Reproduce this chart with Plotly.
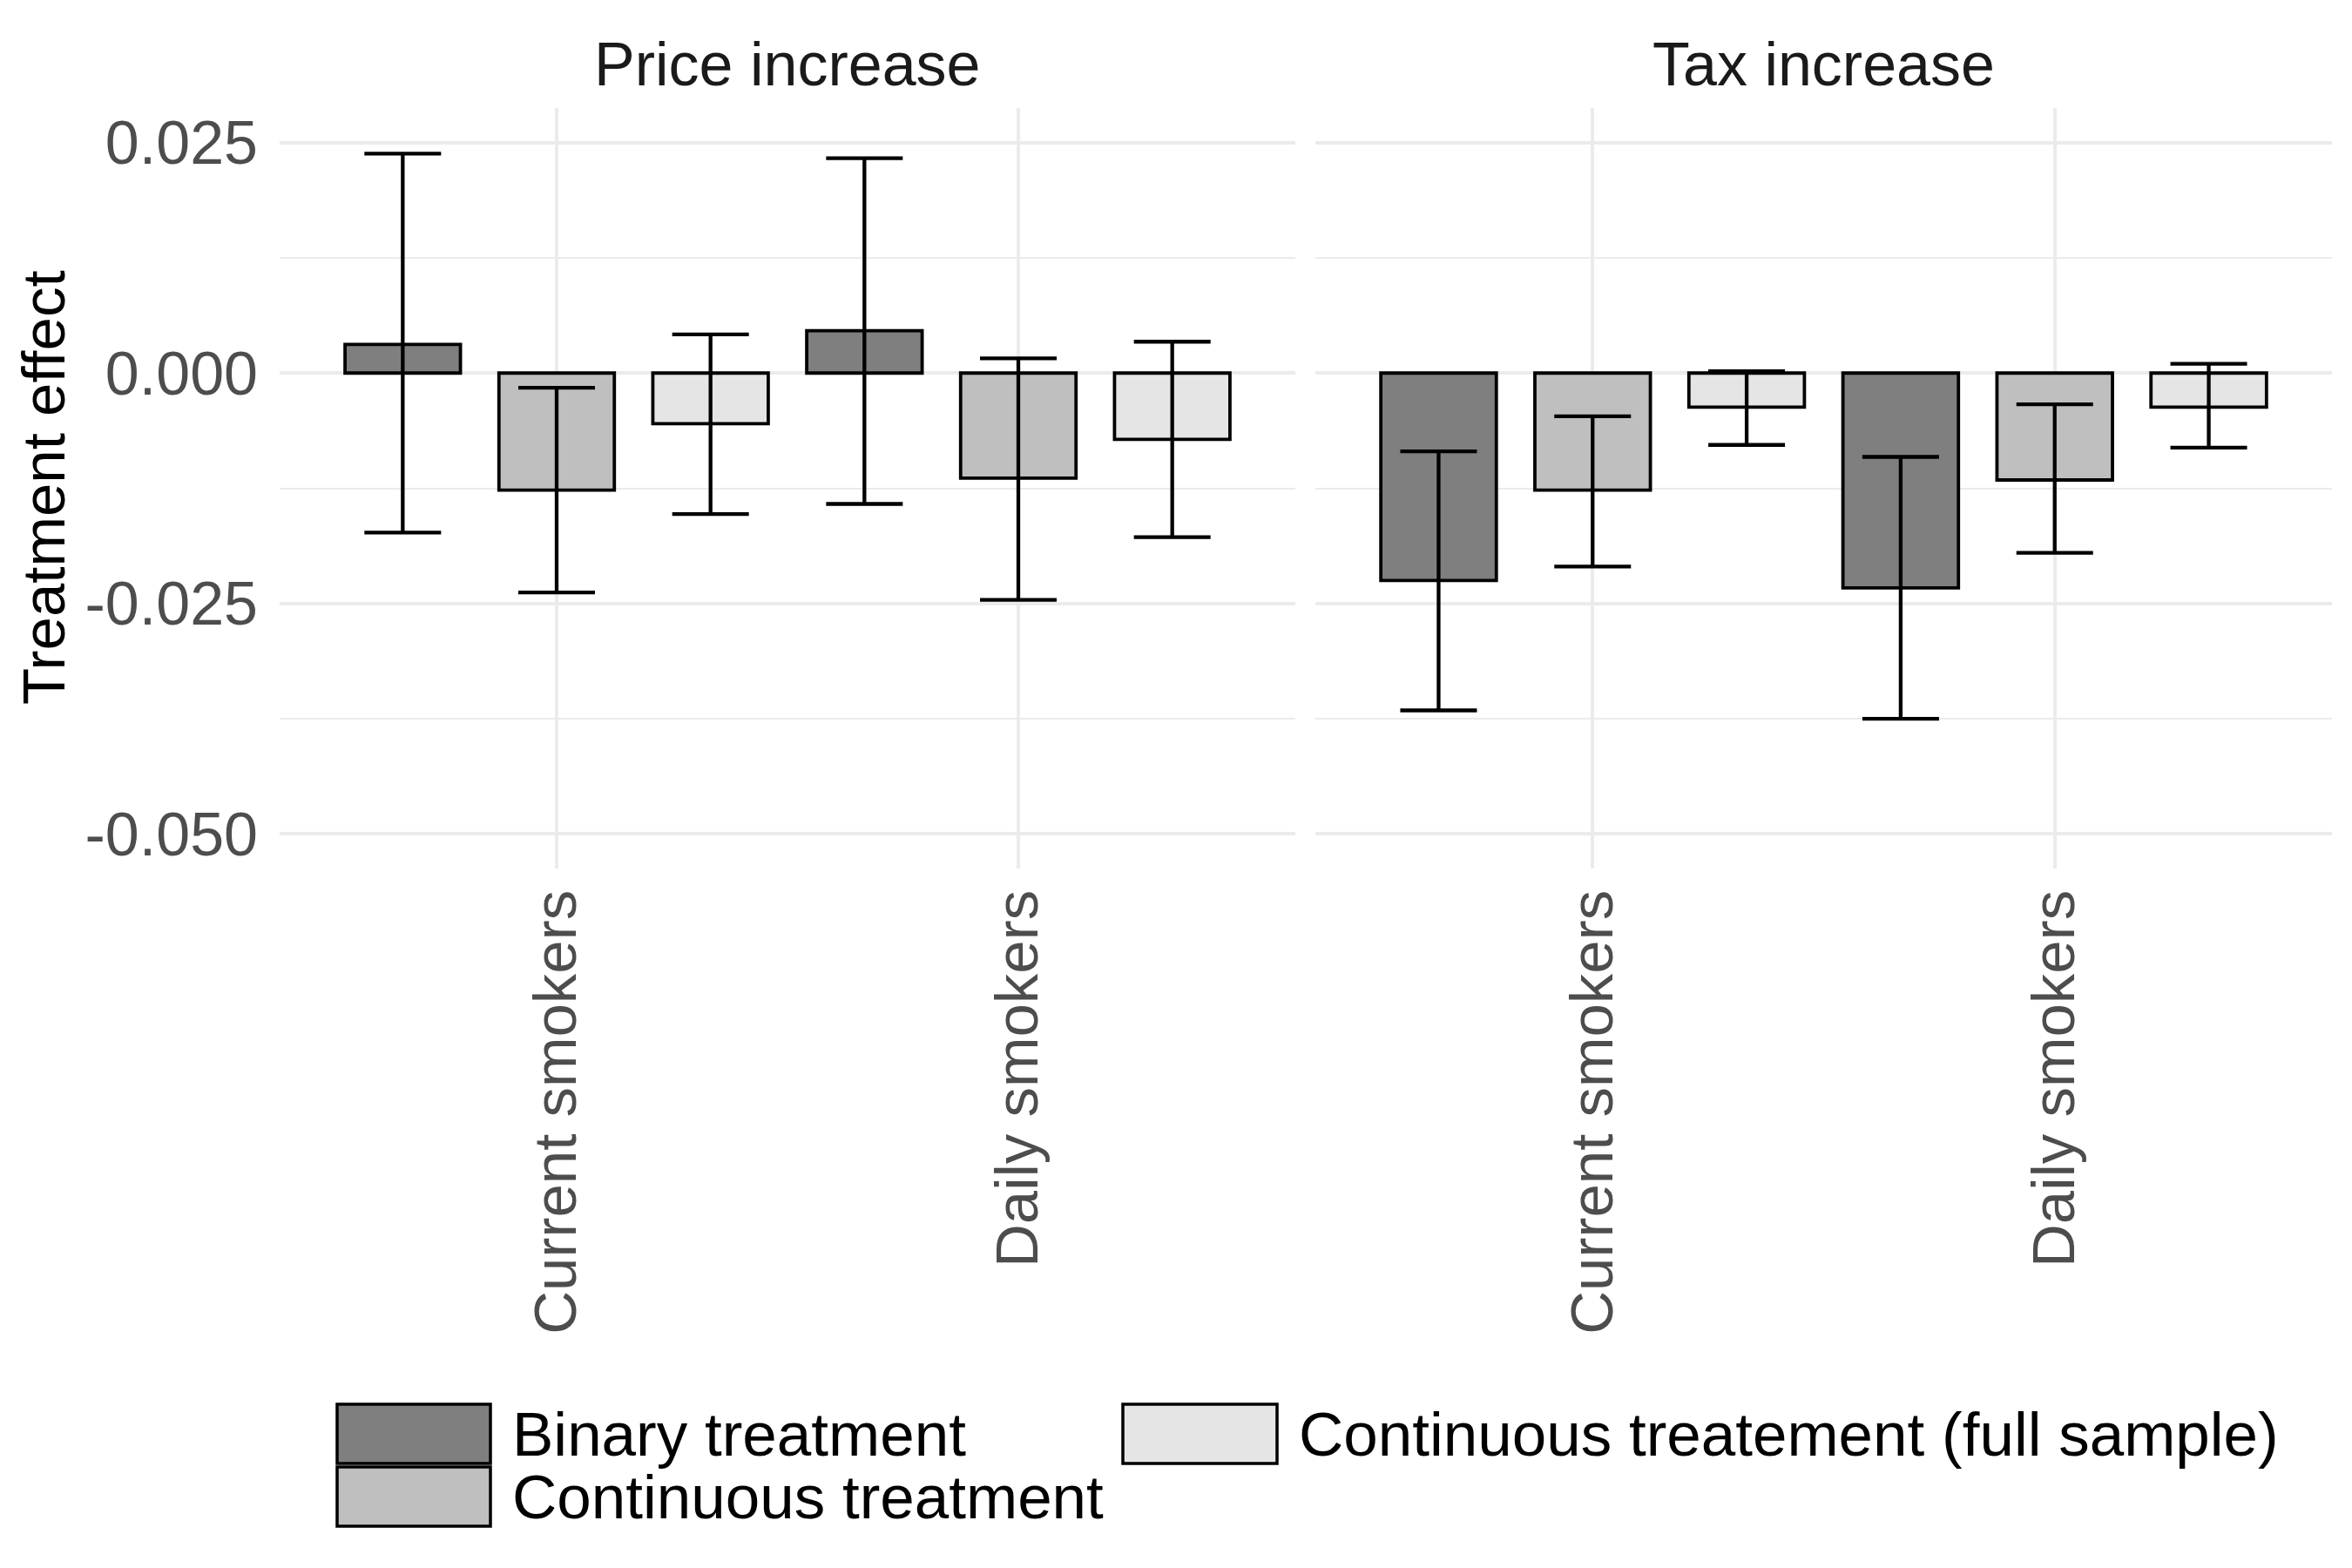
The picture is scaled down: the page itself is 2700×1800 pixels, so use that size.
import plotly.graph_objects as go

# ---- data ----
panels = ["Price increase", "Tax increase"]
groups = ["Current smokers", "Daily smokers"]
series = ["Binary treatment", "Continuous treatment", "Continuous treatement (full sample)"]
colors = ["#7F7F7F", "#BFBFBF", "#E5E5E5"]

# values[panel][series] -> [Current, Daily]
price_est = [[0.0031, 0.0046], [-0.0127, -0.0114], [-0.0055, -0.0072]]
price_hi = [[0.0238, 0.0233], [-0.0016, 0.0016], [0.0042, 0.0034]]
price_lo = [[-0.0173, -0.0142], [-0.0238, -0.0246], [-0.0153, -0.0178]]

tax_est = [[-0.0225, -0.0233], [-0.0127, -0.0116], [-0.0037, -0.0037]]
tax_hi = [[-0.0085, -0.0091], [-0.0047, -0.0034], [0.0002, 0.0010]]
tax_lo = [[-0.0366, -0.0375], [-0.0210, -0.0195], [-0.0078, -0.0081]]

y_ticks = [0.025, 0.0, -0.025, -0.05]
y_ticktext = ["0.025", "0.000", "-0.025", "-0.050"]

FONT = "Liberation Sans, Arial, Helvetica, sans-serif"
FS = 69
W, H = 2700, 1800
OFF = 8  # page body margin in the browser

fig = go.Figure()
panel_data = [(price_est, price_hi, price_lo), (tax_est, tax_hi, tax_lo)]
for p, (est, hi, lo) in enumerate(panel_data):
    xa = "x" if p == 0 else "x2"
    ya = "y" if p == 0 else "y2"
    for s in range(3):
        e = est[s]
        up = [h - v for h, v in zip(hi[s], e)]
        dn = [v - l for v, l in zip(e, lo[s])]
        fig.add_trace(go.Bar(
            x=groups, y=e, name=series[s], offsetgroup=str(s),
            marker=dict(color=colors[s], line=dict(color="black", width=3.8)),
            error_y=dict(type="data", symmetric=False, array=up, arrayminus=dn,
                         color="black", thickness=4.3, width=44),
            xaxis=xa, yaxis=ya, showlegend=False,
        ))

px2x = lambda v: (v - OFF) / W
px2y = lambda v: 1 - (v - OFF) / H

ydom = [px2y(997), px2y(124)]
yrange = [-0.05375, 0.02875]
grid = "#EBEBEB"

common_x = dict(type="category", categoryorder="array", categoryarray=groups,
                range=[-0.6, 1.6], showgrid=True, gridcolor=grid, gridwidth=4,
                zeroline=False, showline=False, ticks="", tickangle=-90,
                tickfont=dict(family=FONT, size=FS, color="#4D4D4D"),
                ticklabelstandoff=10, automargin=False)
common_y = dict(range=yrange, domain=ydom, tickvals=y_ticks, ticktext=y_ticktext,
                showgrid=True, gridcolor=grid, gridwidth=4, zeroline=False,
                showline=False, ticks="",
                minor=dict(dtick=0.0125, tick0=0, showgrid=True, gridcolor=grid, gridwidth=2),
                tickfont=dict(family=FONT, size=FS + 1, color="#4D4D4D"),
                ticklabelstandoff=24, automargin=False)

fig.update_layout(
    width=W, height=H,
    margin=dict(l=0, r=0, t=0, b=0),
    paper_bgcolor="white", plot_bgcolor="white",
    barmode="group", bargap=0, bargroupgap=0.25,
    font=dict(family=FONT, size=FS, color="black"),
    xaxis=dict(domain=[px2x(321), px2x(1487)], anchor="y", **common_x),
    xaxis2=dict(domain=[px2x(1510), px2x(2677)], anchor="y2", **common_x),
    yaxis=dict(anchor="x", showticklabels=True, **common_y),
    yaxis2=dict(anchor="x2", showticklabels=False, matches="y", **common_y),
)

annotations = []
# facet strip titles
for p, (a, b) in enumerate([(321, 1487), (1510, 2677)]):
    annotations.append(dict(text=panels[p], xref="paper", yref="paper",
                            x=px2x((a + b) / 2), y=px2y(74), xanchor="center", yanchor="middle",
                            showarrow=False, font=dict(family=FONT, size=FS + 1, color="#1A1A1A")))
# y-axis title
annotations.append(dict(text="Treatment effect", xref="paper", yref="paper",
                        x=px2x(50), y=px2y(560), xanchor="center", yanchor="middle",
                        textangle=-90, showarrow=False,
                        font=dict(family=FONT, size=FS, color="black")))

# legend (drawn manually to match ggplot's wide keys)
legend_items = [
    (0, (387, 563, 1612, 1680), 586),
    (1, (387, 563, 1684, 1752), 586),
    (2, (1289, 1466, 1612, 1680), 1489),
]
shapes = []
for s, (x0, x1, y0, y1), tx in legend_items:
    shapes.append(dict(type="rect", xref="paper", yref="paper",
                       x0=px2x(x0), x1=px2x(x1), y0=px2y(y1), y1=px2y(y0),
                       fillcolor=colors[s], line=dict(color="black", width=3.5)))
    annotations.append(dict(text=series[s], xref="paper", yref="paper",
                            x=px2x(tx), y=px2y((y0 + y1) / 2), xanchor="left", yanchor="middle",
                            showarrow=False, font=dict(family=FONT, size=FS + 2, color="black")))

fig.update_layout(annotations=annotations, shapes=shapes)
fig.write_html("out.html")
